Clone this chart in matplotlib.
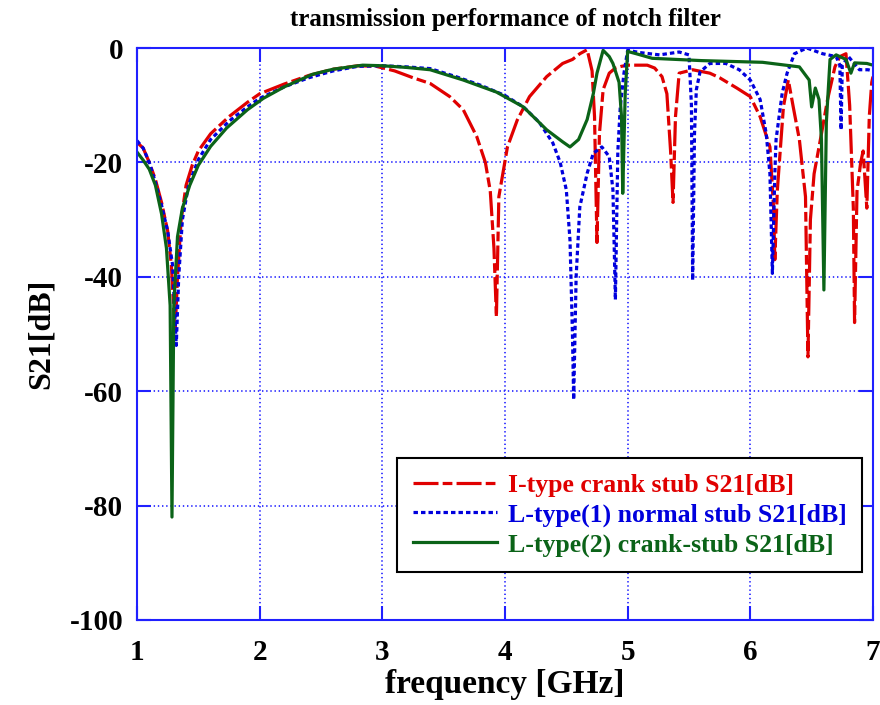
import matplotlib
matplotlib.use("Agg")
import matplotlib.pyplot as plt

plt.rcParams['font.family'] = ['Liberation Serif', 'DejaVu Serif']
plt.rcParams['font.weight'] = 'bold'
plt.rcParams['axes.unicode_minus'] = False
plt.rcParams['lines.scale_dashes'] = False

# I-type crank stub
f_i = [1.0, 1.05, 1.1, 1.15, 1.2, 1.25, 1.28, 1.31, 1.33, 1.36, 1.4, 1.45, 1.5, 1.6,
       1.75, 1.9, 2.0, 2.2, 2.4, 2.6, 2.8, 2.95, 3.1, 3.25, 3.39, 3.55, 3.66, 3.77,
       3.84, 3.88, 3.91, 3.93, 3.95, 4.02, 4.1, 4.2, 4.34, 4.47, 4.55, 4.61, 4.67,
       4.71, 4.73, 4.75, 4.77, 4.8, 4.85, 4.9, 4.95, 5.0, 5.16, 5.22, 5.28, 5.32,
       5.35, 5.37, 5.39, 5.42, 5.53, 5.67, 5.75, 5.89, 6.0, 6.08, 6.16, 6.19, 6.2,
       6.22, 6.27, 6.31, 6.35, 6.4, 6.45, 6.47, 6.49, 6.52, 6.58, 6.63, 6.69, 6.73,
       6.78, 6.81, 6.84, 6.85, 6.87, 6.9, 6.92, 6.95, 6.97, 6.99, 7.0]
s21_i = [-16.5, -17.5, -20, -23, -27, -32, -38, -50, -40, -30, -24, -20.5, -18, -15,
         -12, -9.5, -8, -6.3, -4.8, -3.7, -3.1, -3.2, -4, -5.2, -6.2, -8.5, -10.8, -15.5,
         -20, -25, -35, -47, -26, -17.3, -12.6, -8.5, -5, -2.7, -2, -1, -0.3,
         -4, -12, -34, -15, -7.3, -4.4, -3.5, -3.2, -3, -3, -3.5, -5, -8,
         -18, -27, -12, -4.4, -3.8, -4.4, -5.2, -7, -8.5, -12, -17.3, -28, -37,
         -25, -10.3, -5.6, -10.3, -16, -26, -54, -30, -22, -15, -9, -3.3, -1.5,
         -1, -10, -28, -48, -25, -20, -18, -28, -12, -6, -5]

# L-type(1) normal stub
f_l1 = [1.0, 1.05, 1.1, 1.15, 1.2, 1.25, 1.29, 1.32, 1.34, 1.37, 1.42, 1.5, 1.6, 1.75,
        1.9, 2.0, 2.2, 2.4, 2.6, 2.8, 3.0, 3.2, 3.39, 3.6, 3.8, 4.0, 4.15, 4.28, 4.39,
        4.45, 4.5, 4.53, 4.55, 4.56, 4.58, 4.61, 4.67, 4.72, 4.79, 4.85, 4.88, 4.9,
        4.92, 4.94, 4.97, 5.0, 5.1, 5.26, 5.42, 5.5, 5.52, 5.53, 5.545, 5.56, 5.59,
        5.67, 5.8, 5.91, 6.0, 6.08, 6.13, 6.16, 6.18, 6.2, 6.21, 6.26, 6.3, 6.36,
        6.46, 6.59, 6.7, 6.73, 6.74, 6.75, 6.8, 6.89, 6.96, 7.0]
s21_l1 = [-16.2, -17.5, -20, -23.5, -27.5, -32, -38, -52, -40, -30, -24, -19.5, -16, -12.8,
          -10.3, -8.8, -6.8, -5.2, -4, -3.2, -3.1, -3.3, -3.6, -5, -6.5, -8.3, -10.3, -13, -16.6,
          -20, -24.8, -33.6, -50, -61.5, -40, -27.8, -21.9, -18.4, -17.3, -19, -24.8, -44,
          -18, -10.3, -4.4, -0.4, -0.8, -1.2, -0.7, -1.2, -10, -40.6, -15, -7.3, -4.2,
          -2.7, -2.7, -3.8, -5.6, -9, -15, -22, -39.4, -22, -16, -7.9, -4.4, -1,
          0, -1, -1.5, -3, -14.3, -3, -1.5, -3.8, -3.8, -4]

# L-type(2) crank-stub
f_l2 = [1.0, 1.05, 1.1, 1.15, 1.2, 1.24, 1.27, 1.285, 1.3, 1.33, 1.37, 1.43, 1.5, 1.6,
        1.73, 1.9, 2.03, 2.2, 2.43, 2.6, 2.84, 3.0, 3.2, 3.39, 3.66, 3.93, 4.15, 4.34,
        4.47, 4.53, 4.6, 4.67, 4.72, 4.75, 4.8, 4.85, 4.88, 4.93, 4.95, 4.96, 4.98,
        5.0, 5.07, 5.2, 5.6, 6.1, 6.4, 6.48, 6.5, 6.53, 6.56, 6.58, 6.6, 6.62, 6.65,
        6.7, 6.78, 6.82, 6.85, 6.95, 7.0]
s21_l2 = [-18.2, -19.6, -21.2, -24, -29, -35, -45, -82, -45, -33, -28, -24, -20.5, -17.2,
          -14, -10.8, -8.8, -6.8, -4.6, -3.7, -3, -3.1, -3.4, -3.8, -5.6, -7.7, -10.3, -14.3,
          -16.4, -17.3, -16, -12.5, -8, -4.4, -0.4, -1.5, -2.7, -6, -12, -25.4, -8,
          -0.6, -1, -1.8, -2.2, -2.5, -3.3, -5.6, -10.3, -7, -9, -16, -42.3, -13, -2,
          -1.2, -2, -4.4, -2.6, -2.7, -3]

labels = ['I-type crank stub S21[dB]',
          'L-type(1) normal stub S21[dB]',
          'L-type(2) crank-stub S21[dB]']
colors = ['#e00000', '#0000dd', '#0b6318']

fig = plt.figure(figsize=(8.8, 7.05), dpi=100)
ax = fig.add_axes([0.1557, 0.1206, 0.8363, 0.8113])

ax.plot(f_i, s21_i, color=colors[0], lw=2.3, ls=(0, (18, 3, 7, 3)), label=labels[0])
ax.plot(f_l1, s21_l1, color=colors[1], lw=2.3, ls=(0, (3.2, 2.2)), label=labels[1])
ax.plot(f_l2, s21_l2, color=colors[2], lw=2.3, ls='-', label=labels[2])

ax.set_xlim(1, 7)
ax.set_ylim(-100, 0)
ax.set_xticks(range(1, 8))
ax.set_yticks(range(-100, 1, 20))
ax.grid(True, color='#2020ff', ls=(0, (1, 2)), lw=1.2)
for sp in ax.spines.values():
    sp.set_color('#2020ff')
    sp.set_linewidth(1.5)
ax.tick_params(direction='in', length=10, width=1.5, color='#2020ff',
               top=True, right=True, labelsize=21)
ax.tick_params(axis='x', pad=14)
ax.tick_params(axis='y', pad=10)

ax.set_xlabel('frequency [GHz]', fontsize=24, fontweight='bold', labelpad=2)
ax.set_ylabel('S21[dB]', fontsize=23, fontweight='bold', labelpad=10)
ax.set_title('transmission performance of notch filter', fontsize=18,
             fontweight='bold', pad=16)

leg = ax.legend(loc='lower right', bbox_to_anchor=(0.985, 0.084), borderaxespad=0,
                fontsize=18.5, frameon=True, fancybox=False, framealpha=1,
                edgecolor='black', handlelength=3.3, handletextpad=0.4,
                borderpad=0.6, labelspacing=0.25)
leg.get_frame().set_linewidth(1.5)
for txt, c in zip(leg.get_texts(), colors):
    txt.set_color(c)
    txt.set_fontweight('bold')

fig.savefig('out.png', dpi=100, facecolor='white')
